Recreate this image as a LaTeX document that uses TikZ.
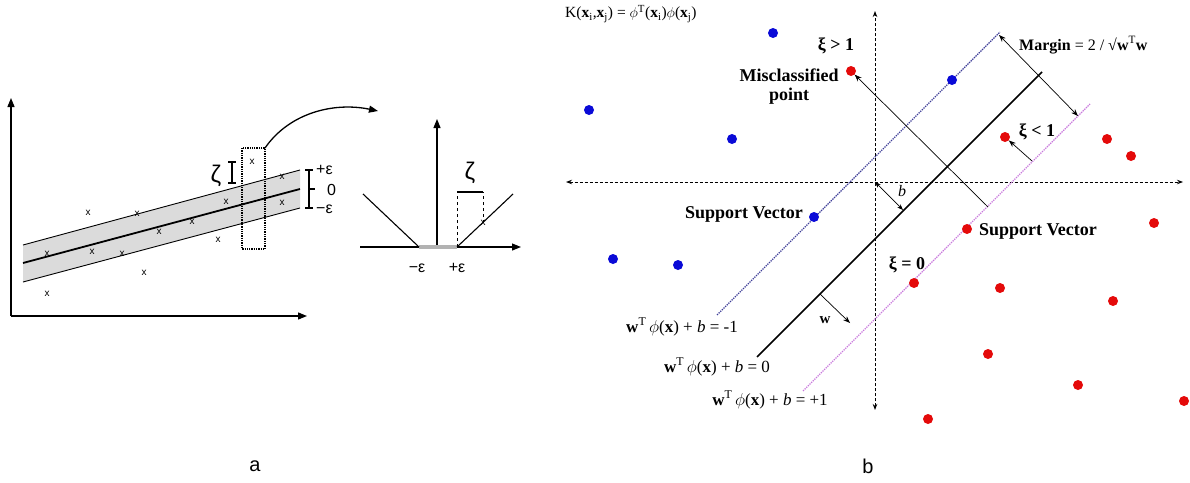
\documentclass[tikz,border=0pt]{standalone}
\usepackage{fontspec}
\setmainfont{Liberation Serif}
\newfontfamily\sansf{Liberation Sans}
\usetikzlibrary{arrows.meta}
\definecolor{dotblue}{RGB}{10,10,215}
\definecolor{dotred}{RGB}{228,10,10}
\definecolor{svpink}{RGB}{200,120,220}
\definecolor{svblue}{RGB}{60,60,150}
\begin{document}
\begin{tikzpicture}[x=1pt,y=-1pt,
  axis/.style={line width=1.3pt,-{Triangle[length=9pt,width=7pt]}},
  xm/.style={font=\sansf\fontsize{10}{10}\selectfont,inner sep=0pt},
  lab/.style={font=\sansf\fontsize{16}{16}\selectfont,inner sep=0pt},
  panel/.style={font=\sansf\fontsize{20}{20}\selectfont,inner sep=0pt},
  bdot/.style={circle,fill=dotblue,inner sep=0pt,minimum size=10pt},
  rdot/.style={circle,fill=dotred,inner sep=0pt,minimum size=10pt},
  btxt/.style={font=\bfseries\fontsize{18}{19}\selectfont,inner sep=0pt,align=center},
  eqt/.style={font=\fontsize{17}{17}\selectfont,inner sep=0pt},
  daxis/.style={densely dashed,line width=0.9pt,{Stealth[length=6pt]}-{Stealth[length=6pt]}},
  thin arrow/.style={line width=0.7pt,-{Stealth[length=7pt]}}]
\useasboundingbox (0,0) rectangle (1190,482);
% ---------------- panel a ----------------
\coordinate (o) at (11,316);
\coordinate (ytop) at (11,98);
\coordinate (xend) at (307,316);
\draw[axis] (o) -- (ytop);
\draw[axis] (o) -- (xend);
\coordinate (u1) at (23,245); \coordinate (u2) at (300,170);
\coordinate (c1) at (23,263); \coordinate (c2) at (300,189);
\coordinate (l1) at (23,282); \coordinate (l2) at (300,208);
\fill[gray!28] (u1) -- (u2) -- (l2) -- (l1) -- cycle;
\draw[line width=0.9pt] (u1) -- (u2);
\draw[line width=1.8pt] (c1) -- (c2);
\draw[line width=0.9pt] (l1) -- (l2);
\draw[densely dotted,line width=1.3pt] (242,148) rectangle (265,249);
\coordinate (cs) at (265,148);
\coordinate (ce) at (378,111);
\draw[line width=1.3pt,-{Triangle[length=9pt,width=7pt]}] (cs) .. controls (290,112) and (335,102) .. (ce);
\foreach \p in {(88,213),(137,214),(159,232),(192,222),(226,202),(282,177),(252,162),(47,254),(92,252),(122,254),(218,240),(144,273),(47,294),(282,203)}
  \node[xm] at \p {x};
\node[inner sep=0pt,font=\sansf\fontsize{24}{24}\selectfont] (zeta1) at (216,176) {ζ};
\draw[line width=1.2pt] (232,162) -- (232,183) (228,162) -- (236,162) (228,183) -- (236,183);
\draw[line width=1.2pt] (309,170) -- (309,208) (305,170) -- (313,170) (305,208) -- (313,208) (309,189) -- (315,189);
\node[lab,anchor=west] (pe) at (316,170) {+ε};
\node[lab,anchor=west] (ze) at (327,190) {0};
\node[lab,anchor=west] (me) at (316,209) {−ε};
% inner plot
\coordinate (io) at (437,247);
\coordinate (iy) at (437,119);
\coordinate (ixl) at (360,247);
\coordinate (ix) at (521,247);
\draw[line width=1.1pt,-{Triangle[length=9pt,width=7pt]}] (io) -- (iy);
\draw[line width=1.1pt,-{Triangle[length=9pt,width=7pt]}] (ixl) -- (ix);
\coordinate (em) at (419,247); \coordinate (ep) at (457,247);
\draw[gray!60,line width=3.5pt] (em) -- (ep);
\draw[line width=1.1pt] (363,194) -- (em);
\draw[line width=1.1pt] (ep) -- (513,194);
\draw[dashed,line width=0.9pt] (ep) -- (457,192);
\draw[dashed,line width=0.9pt] (483,223) -- (483,192);
\draw[line width=1.1pt] (457,192) -- (483,192);
\node[xm] at (483,223) {x};
\node[inner sep=0pt,font=\sansf\fontsize{24}{24}\selectfont] (zeta2) at (470,173) {ζ};
\node[lab] (lme) at (417,268) {−ε};
\node[lab] (lpe) at (457,268) {+ε};
\node[panel] (pa) at (255,466) {a};
% ---------------- panel b ----------------
\node[font=\fontsize{15.5}{15.5}\selectfont,inner sep=0pt,anchor=west] (kern) at (565,14) {K(\textbf{x}\textsubscript{i},\textbf{x}\textsubscript{j}) = $\phi$\textsuperscript{T}(\textbf{x}\textsubscript{i})$\phi$(\textbf{x}\textsubscript{j})};
\coordinate (vt) at (875,11); \coordinate (vb) at (875,410);
\coordinate (hl) at (566,182); \coordinate (hr) at (1183,182);
\draw[daxis] (vb) -- (vt);
\draw[daxis] (hl) -- (hr);
\coordinate (h1) at (757,357); \coordinate (h2) at (1042,72);
\coordinate (s1) at (717,315); \coordinate (s2) at (1000,32);
\coordinate (p1) at (803,391); \coordinate (p2) at (1090,104);
\draw[line width=1.7pt] (h1) -- (h2);
\draw[svblue,densely dotted,line width=1.3pt] (s1) -- (s2);
\draw[svpink,densely dotted,line width=1.3pt] (p1) -- (p2);
% margin arrow
\coordinate (m1) at (999,35); \coordinate (m2) at (1078,116);
\draw[line width=0.7pt,{Stealth[length=7pt]}-{Stealth[length=7pt]}] (m1) -- (m2);
\node[font=\fontsize{16}{16}\selectfont,anchor=west,inner sep=0pt] (marg) at (1019,45) {\textbf{Margin} = 2 / √\textbf{w}\textsuperscript{T}\textbf{w}};
% points
\foreach \p [count=\i] in {(773,33),(589,110),(732,139),(952,80),(814,217),(613,259),(678,265)}
  \node[bdot] (b\i) at \p {};
\foreach \p [count=\i] in {(851,71),(1005,137),(1107,139),(1131,156),(967,229),(1154,223),(914,283),(1000,288),(1113,301),(988,354),(1078,385),(1184,401),(928,419)}
  \node[rdot] (r\i) at \p {};
% misclassified arrow
\coordinate (mc) at (988,207);
\draw[thin arrow] (mc) -- (r1);
% xi<1 arrow
\coordinate (xs) at (1032,161);
\draw[thin arrow] (xs) -- (r2);
% b arrow
\coordinate (bo) at (875,182); \coordinate (bf) at (903,210);
\draw[line width=0.7pt,{Stealth[length=6pt]}-{Stealth[length=6pt]}] (bo) -- (bf);
\node[font=\itshape\fontsize{16}{16}\selectfont,inner sep=0pt] (blab) at (902,191) {b};
% w arrow
\coordinate (w0) at (820,294); \coordinate (w1) at (850,323);
\draw[thin arrow] (w0) -- (w1);
\node[font=\bfseries\fontsize{15}{15}\selectfont,inner sep=0pt] (wlab) at (825,320) {w};
% labels
\node[btxt] (xi1) at (836,46) {ξ > 1};
\node[btxt] (mis) at (789,87) {Misclassified\\point};
\node[btxt] (sv1) at (744,214) {Support Vector};
\node[btxt] (sv2) at (1038,231) {Support Vector};
\node[btxt] (xi0) at (907,265) {ξ = 0};
\node[btxt] (xi2) at (1037,132) {ξ < 1};
\node[eqt] (eq1) at (682,327) {\textbf{w}\textsuperscript{T}\,$\phi$(\textbf{x}) + \textit{b} = -1};
\node[eqt] (eq0) at (717,367) {\textbf{w}\textsuperscript{T}\,$\phi$(\textbf{x}) + \textit{b} = 0};
\node[eqt] (eq2) at (770,400) {\textbf{w}\textsuperscript{T}\,$\phi$(\textbf{x}) + \textit{b} = +1};
\node[panel] (pb) at (868,466) {b};
\end{tikzpicture}
\end{document}
